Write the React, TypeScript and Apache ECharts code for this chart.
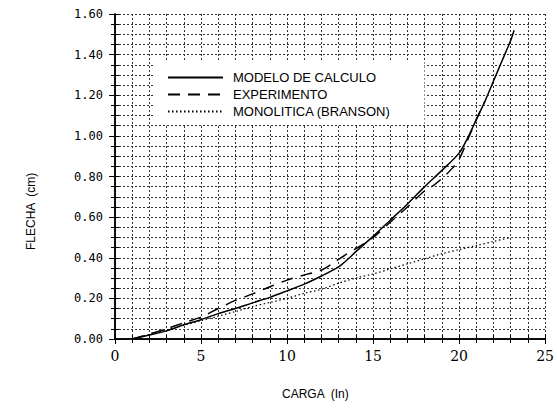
import React, { useEffect, useRef } from "react";
import * as echarts from "echarts";

const modeloX = [1, 2, 3, 4, 5, 6, 7, 8, 9, 10, 11, 12, 13, 13.5, 14, 15, 16, 17, 18, 19, 20, 20.5, 21, 21.5, 22, 22.5, 23, 23.2];
const modeloY = [0, 0.02, 0.04, 0.07, 0.095, 0.125, 0.15, 0.178, 0.205, 0.237, 0.27, 0.31, 0.355, 0.39, 0.43, 0.505, 0.585, 0.665, 0.75, 0.83, 0.915, 0.99, 1.08, 1.17, 1.27, 1.37, 1.47, 1.52];

const experimentoX = [1, 2, 3, 4, 5, 6, 7, 8, 9, 10, 11, 12, 12.6, 13.5, 14, 15, 16, 17, 18, 18.5, 19, 19.6, 20, 20.5, 21, 21.5];
const experimentoY = [0, 0.025, 0.05, 0.08, 0.108, 0.15, 0.19, 0.222, 0.257, 0.29, 0.315, 0.34, 0.37, 0.42, 0.445, 0.5, 0.575, 0.65, 0.73, 0.755, 0.79, 0.84, 0.885, 0.98, 1.08, 1.17];

const bransonX = [1, 3, 5, 7, 8, 9, 10, 11, 12, 13, 14, 15, 16, 17, 18, 19, 20, 21, 22, 23];
const bransonY = [0, 0.045, 0.09, 0.135, 0.16, 0.18, 0.2, 0.225, 0.245, 0.275, 0.3, 0.32, 0.345, 0.37, 0.395, 0.42, 0.44, 0.46, 0.48, 0.5];

const seriesNames = ["MODELO DE CALCULO", "EXPERIMENTO", "MONOLITICA (BRANSON)"];
const xTitle = "CARGA  (In)";
const yTitle = "FLECHA  (cm)";

const zip = (xs: number[], ys: number[]) => xs.map((x, i) => [x, ys[i]]);

export default function App() {
  const ref = useRef<HTMLDivElement>(null);
  useEffect(() => {
    if (!ref.current) return;
    const chart = echarts.init(ref.current, undefined, { renderer: "svg" });
    const gridLine = { show: true, lineStyle: { color: "#333", width: 1, type: [2, 2] as any } };
    const baseX = { type: "value", min: 0, max: 25 };
    const baseY = { type: "value", min: 0, max: 1.6 };
    chart.setOption({
      animation: false,
      backgroundColor: "#fff",
      grid: { left: 115, right: 11, top: 14, bottom: 69, show: false },
      xAxis: [
        {
          ...baseX,
          position: "bottom",
          interval: 5,
          axisLine: { show: true, lineStyle: { color: "#000", width: 1.5 } },
          axisTick: { show: true, length: 5, lineStyle: { color: "#000" } },
          axisLabel: { margin: 10, color: "#000", fontFamily: "DejaVu Serif", fontSize: 14 },
          splitLine: gridLine,
          minorSplitLine: gridLine,
          minorTick: { show: false, splitNumber: 5 },
        },
        {
          ...baseX,
          position: "bottom",
          interval: 1,
          axisLine: { show: false },
          axisTick: { show: true, inside: true, length: 4, lineStyle: { color: "#000" } },
          axisLabel: { show: false },
          splitLine: { show: false },
        },
        {
          ...baseX,
          position: "top",
          interval: 1,
          axisLine: { show: true, lineStyle: { color: "#000", width: 1.5 } },
          axisTick: { show: true, inside: true, length: 4, lineStyle: { color: "#000" } },
          axisLabel: { show: false },
          splitLine: { show: false },
        },
      ],
      yAxis: [
        {
          ...baseY,
          position: "left",
          interval: 0.2,
          axisLine: { show: true, lineStyle: { color: "#000", width: 1.5 } },
          axisTick: { show: true, length: 6, lineStyle: { color: "#000" } },
          axisLabel: {
            margin: 12,
            color: "#000",
            fontFamily: "DejaVu Sans Mono",
            fontSize: 12,
            formatter: (v: number) => v.toFixed(2),
          },
          splitLine: gridLine,
          minorSplitLine: gridLine,
          minorTick: { show: false, splitNumber: 4 },
        },
        {
          ...baseY,
          position: "left",
          interval: 0.05,
          axisLine: { show: false },
          axisTick: { show: true, inside: true, length: 4, lineStyle: { color: "#000" } },
          axisLabel: { show: false },
          splitLine: { show: false },
        },
        {
          ...baseY,
          position: "right",
          interval: 0.05,
          axisLine: { show: true, lineStyle: { color: "#000", width: 1.5 } },
          axisTick: { show: true, inside: true, length: 4, lineStyle: { color: "#000" } },
          axisLabel: { show: false },
          splitLine: { show: false },
        },
      ],
      legend: {
        orient: "vertical",
        left: 155,
        top: 60,
        padding: [11, 34, 7, 12],
        backgroundColor: "#fff",
        itemWidth: 55,
        itemHeight: 14,
        itemGap: 4,
        itemStyle: { opacity: 0 },
        data: seriesNames,
        textStyle: { color: "#000", fontFamily: "Liberation Sans", fontSize: 13, padding: [0, 0, 0, 5] },
      },
      series: [
        {
          name: seriesNames[0],
          type: "line",
          symbol: "none",
          smooth: 0.3,
          data: zip(modeloX, modeloY),
          lineStyle: { color: "#000", width: 1.5, type: "solid" },
          itemStyle: { color: "#000" },
          z: 5,
        },
        {
          name: seriesNames[1],
          type: "line",
          symbol: "none",
          smooth: 0.3,
          data: zip(experimentoX, experimentoY),
          lineStyle: { color: "#000", width: 1.5, type: [12, 8] },
          itemStyle: { color: "#000" },
          z: 4,
        },
        {
          name: seriesNames[2],
          type: "line",
          symbol: "none",
          smooth: 0.3,
          data: zip(bransonX, bransonY),
          lineStyle: { color: "#000", width: 1.2, type: [1.5, 2.5] },
          itemStyle: { color: "#000" },
          z: 3,
        },
      ],
      graphic: [
        {
          type: "text",
          left: 316 - 34,
          top: 388,
          style: { text: xTitle, fill: "#000", font: "12px 'Liberation Sans'" },
        },
        {
          type: "text",
          x: 25,
          y: 250,
          rotation: Math.PI / 2,
          style: { text: yTitle, fill: "#000", font: "12px 'Liberation Sans'" },
        },
      ],
    });
    return () => chart.dispose();
  }, []);
  return (
    <div
      ref={ref}
      style={{ position: "absolute", left: 0, top: 0, width: 557, height: 408, background: "#fff" }}
    />
  );
}
